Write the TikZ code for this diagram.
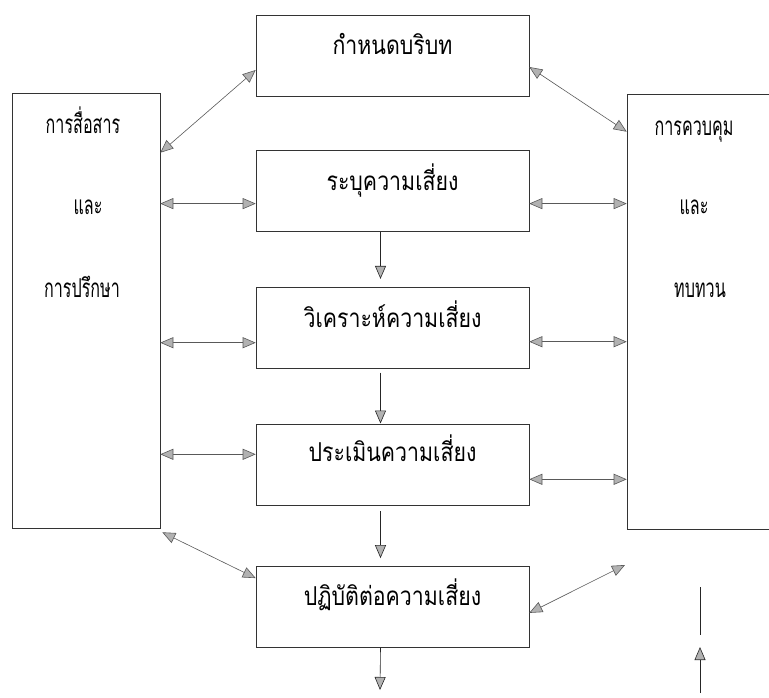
\documentclass[tikz,border=0pt]{standalone}
\usepackage{fontspec}
\newfontfamily\thaifont[Script=Thai,FakeStretch=0.82]{Loma}
\newfontfamily\thaiside[Script=Thai,FakeStretch=0.62]{Loma}
\usetikzlibrary{positioning}
\usetikzlibrary{arrows.meta}

\tikzset{
    thai/.style={font=\thaifont\fontsize{26}{30}\selectfont},
    stage/.style={thai, draw=black!80, line width=0.6pt, inner sep=0pt,
        minimum width=273pt, minimum height=81pt, text height=16pt, text depth=#1},
    stage/.default=4pt,
    side/.style={draw=black!80, line width=0.6pt, inner sep=0pt,
        minimum width=148pt, minimum height=435pt},
    word/.style={font=\thaiside\fontsize{26}{30}\selectfont, inner sep=0pt, anchor=base},
    link/.style={draw=black!65, line width=0.6pt, {Triangle[length=13pt, width=11pt, fill=gray!60]}-{Triangle[length=13pt, width=11pt, fill=gray!60]}},
    flow/.style={draw=black!85, line width=0.6pt, -{Triangle[length=13pt, width=11pt, fill=gray!60]}}
}

\begin{document}
\begin{tikzpicture}[x=1pt, y=-1pt]
    \useasboundingbox (0,0) rectangle (769,697);
    \clip (0,0) rectangle (769,697);
    % stages %
    \node[stage=19pt] (ctx) at (392.5,55.5) {กำหนดบริบท};
    \node[stage=18pt, below = 54pt of ctx] (idt) {ระบุความเสี่ยง};
    \node[stage=17pt, below = 55pt of idt] (ana) {วิเคราะห์ความเสี่ยง};
    \node[stage=22pt, below = 55pt of ana] (evl) {ประเมินความเสี่ยง};
    \node[stage=18pt, below = 61pt of evl] (trt) {ปฏิบัติต่อความเสี่ยง};
    % side boxes %
    \node[side] (com) at (86,310.5) {};
    \node[side] (mon) at (701,311.5) {};
    \node[word] (com1) at (83,133) {การสื่อสาร};
    \node[word] (com2) at (88,214) {และ};
    \node[word] (com3) at (82,297) {การปรึกษา};
    \node[word] (mon1) at (694,135) {การควบคุม};
    \node[word] (mon2) at (694,214) {และ};
    \node[word] (mon3) at (700,297) {ทบทวน};
    % free ends %
    \coordinate (out) at (380,690);
    \coordinate (fb) at (625,565);
    \coordinate (up1) at (700,587);
    \coordinate (up2) at (700,635);
    \coordinate (up3) at (700,693);
    \coordinate (up4) at (700,647);
    % flow down %
    \draw[flow] ([xshift=-12pt]idt.south) -- ([xshift=-12pt, yshift=8pt]ana.north);
    \draw[flow, shorten <=4pt] ([xshift=-12pt]ana.south) -- ([xshift=-12pt]evl.north);
    \draw[flow, shorten <=6pt, shorten >=8pt] ([xshift=-12pt]evl.south) -- ([xshift=-12pt]trt.north);
    \draw[flow] ([xshift=-12pt]trt.south) -- (out);
    % two-way links %
    \draw[link] ([yshift=-60pt]com.north east) -- ([yshift=-14.5pt]ctx.west);
    \draw[link] ([yshift=-11.5pt]ctx.east) -- ([yshift=-38pt]mon.north west);
    \draw[link] ([yshift=-12.5pt]idt.west -| com.east) -- ([yshift=-12.5pt]idt.west);
    \draw[link] ([yshift=-12.5pt]idt.east) -- ([yshift=-12.5pt]idt.east -| mon.west);
    \draw[link] ([yshift=-15pt]ana.west -| com.east) -- ([yshift=-15pt]ana.west);
    \draw[link] ([yshift=-14pt]ana.east) -- ([yshift=-14pt]ana.east -| mon.west);
    \draw[link] ([yshift=10pt]evl.west -| com.east) -- ([yshift=10pt]evl.west);
    \draw[link] ([yshift=-15pt]evl.east) -- ([yshift=-15pt]evl.east -| mon.west);
    \draw[link] ([xshift=2pt, yshift=-4pt]com.south east) -- ([yshift=-12pt]trt.north west);
    \draw[link] ([yshift=-6pt]trt.east) -- (fb);
    % feedback %
    \draw[draw=black!85, line width=0.6pt] (up1) -- (up2);
    \draw[flow] (up3) -- (up4);
\end{tikzpicture}
\end{document}
